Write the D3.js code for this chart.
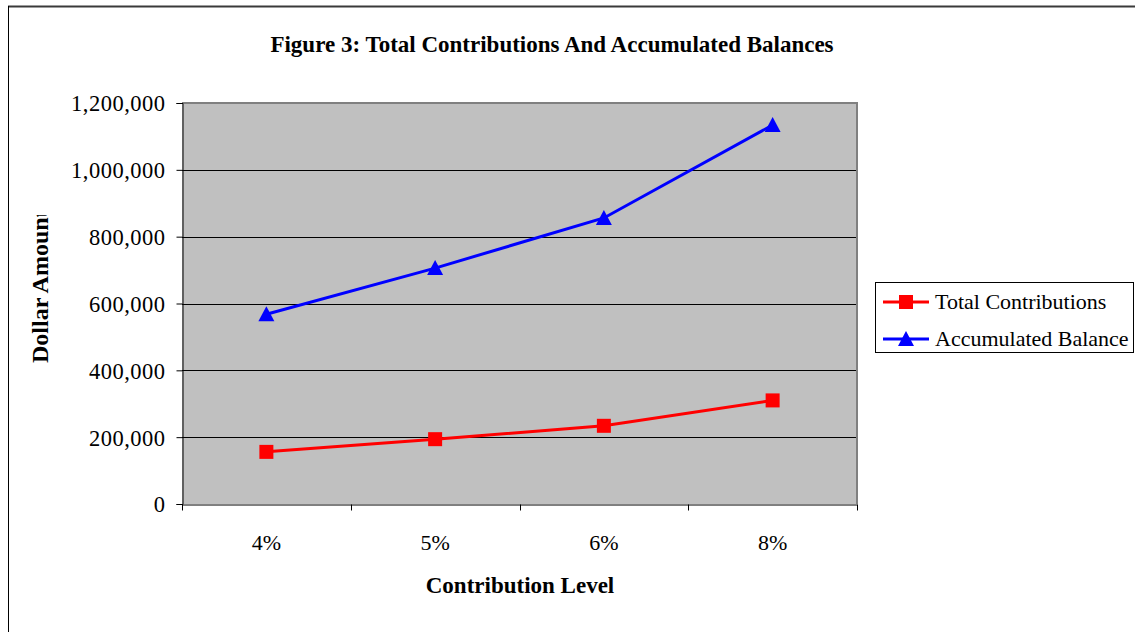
<!DOCTYPE html>
<html>
<head>
<meta charset="utf-8">
<script src="https://cdn.jsdelivr.net/npm/d3@7"></script>
<style>
  html, body { margin: 0; padding: 0; background: #fff; }
  svg { display: block; }
  text { font-family: "Liberation Serif", "Times New Roman", serif; fill: #000; }
</style>
</head>
<body>
<svg id="chart" width="1135" height="632"></svg>
<script>
const categories = ["4%", "5%", "6%", "8%"];
const totalContributions = [156000, 194000, 234000, 310000];
const accumulatedBalance = [568000, 706000, 856000, 1134000];
const yTicks = [0, 200000, 400000, 600000, 800000, 1000000, 1200000];
const seriesNames = ["Total Contributions", "Accumulated Balance"];
const titleText = "Figure 3: Total Contributions And Accumulated Balances";
const xTitle = "Contribution Level";
const yTitle = "Dollar Amount";

const svg = d3.select("#chart");
const plot = { left: 182, right: 857, top: 103, bottom: 504 };

// outer frame
svg.append("line").attr("x1", 8).attr("x2", 1135).attr("y1", 6.5).attr("y2", 6.5)
  .attr("stroke", "#3a3a3a").attr("stroke-width", 2);
svg.append("line").attr("x1", 8.5).attr("x2", 8.5).attr("y1", 6).attr("y2", 632)
  .attr("stroke", "#000").attr("stroke-width", 1);

const x = d3.scaleBand().domain(categories).range([plot.left, plot.right]);
const y = d3.scaleLinear().domain([0, 1200000]).range([plot.bottom, plot.top]);

// plot background
svg.append("rect").attr("x", plot.left).attr("y", plot.top)
  .attr("width", plot.right - plot.left).attr("height", plot.bottom - plot.top)
  .attr("fill", "#c0c0c0");

// gridlines
svg.append("g").selectAll("line").data(yTicks.filter(d => d > 0 && d < 1200000)).join("line")
  .attr("x1", plot.left).attr("x2", plot.right)
  .attr("y1", d => Math.round(y(d)) + 0.5).attr("y2", d => Math.round(y(d)) + 0.5)
  .attr("stroke", "#000").attr("stroke-width", 1);

// plot border top/right
svg.append("path")
  .attr("d", `M${plot.left},${plot.top} H${plot.right} V${plot.bottom}`)
  .attr("fill", "none").attr("stroke", "#808080").attr("stroke-width", 2);

// y axis
const yAxis = d3.axisLeft(y).tickValues(yTicks).tickFormat(d3.format(",")).tickSize(6).tickPadding(11);
const gy = svg.append("g").attr("transform", `translate(${plot.left + 0.5},0)`).call(yAxis);
gy.select(".domain").attr("stroke", "#000");
gy.selectAll(".tick line").attr("stroke", "#000");
gy.selectAll(".tick text").attr("font-size", 22.5).attr("letter-spacing", 0.5)
  .attr("font-family", "Liberation Serif").attr("dy", "0.35em");

// x axis
const xAxis = d3.axisBottom(x).tickSize(0).tickPadding(0);
const gx = svg.append("g").attr("transform", `translate(0,${plot.bottom + 0.5})`).call(xAxis);
gx.select(".domain").attr("stroke", "#000");
gx.selectAll(".tick text").attr("font-size", 22).attr("font-family", "Liberation Serif")
  .attr("y", 45).attr("dy", 0);
// category boundary ticks
const bounds = categories.map(c => x(c)).concat([x(categories[categories.length - 1]) + x.bandwidth()]);
gx.append("g").selectAll("line").data(bounds).join("line")
  .attr("x1", d => Math.round(d) + 0.5).attr("x2", d => Math.round(d) + 0.5)
  .attr("y1", 0).attr("y2", 6).attr("stroke", "#000");

const cx = c => x(c) + x.bandwidth() / 2;

// series
const line = d3.line().x(d => cx(d.c)).y(d => y(d.v));
const redData = categories.map((c, i) => ({ c, v: totalContributions[i] }));
const blueData = categories.map((c, i) => ({ c, v: accumulatedBalance[i] }));

svg.append("path").datum(redData).attr("d", line).attr("fill", "none")
  .attr("stroke", "#ff0000").attr("stroke-width", 3);
svg.append("path").datum(blueData).attr("d", line).attr("fill", "none")
  .attr("stroke", "#0000ff").attr("stroke-width", 3);

const sq = 14;
svg.append("g").selectAll("rect").data(redData).join("rect")
  .attr("x", d => cx(d.c) - sq / 2).attr("y", d => y(d.v) - sq / 2)
  .attr("width", sq).attr("height", sq).attr("fill", "#ff0000");

const tri = (px, py) => `M${px},${py - 8} L${px + 8},${py + 7} L${px - 8},${py + 7} Z`;
svg.append("g").selectAll("path").data(blueData).join("path")
  .attr("d", d => tri(cx(d.c), y(d.v))).attr("fill", "#0000ff");

// title
svg.append("text").attr("x", 552).attr("y", 52).attr("text-anchor", "middle")
  .attr("font-size", 23).attr("font-weight", "bold").text(titleText);

// x title
svg.append("text").attr("x", 520).attr("y", 593).attr("text-anchor", "middle")
  .attr("font-size", 23).attr("font-weight", "bold").text(xTitle);

// y title (clipped like the original)
svg.append("clipPath").attr("id", "yclip").append("rect")
  .attr("x", 0).attr("y", 215).attr("width", 100).attr("height", 300);
svg.append("g").attr("clip-path", "url(#yclip)")
  .append("text").attr("transform", "translate(48,363) rotate(-90)")
  .attr("text-anchor", "start").attr("font-size", 24).attr("font-weight", "bold").text(yTitle);

// legend
const lg = svg.append("g");
lg.append("rect").attr("x", 875.5).attr("y", 282.5).attr("width", 258).attr("height", 70)
  .attr("fill", "#fff").attr("stroke", "#000").attr("stroke-width", 1);
const rows = [
  { name: seriesNames[0], color: "#ff0000", shape: "square", yy: 302 },
  { name: seriesNames[1], color: "#0000ff", shape: "tri", yy: 339 }
];
rows.forEach(r => {
  lg.append("line").attr("x1", 883).attr("x2", 929).attr("y1", r.yy).attr("y2", r.yy)
    .attr("stroke", r.color).attr("stroke-width", 3);
  if (r.shape === "square") {
    lg.append("rect").attr("x", 906 - 7).attr("y", r.yy - 7).attr("width", 14).attr("height", 14).attr("fill", r.color);
  } else {
    lg.append("path").attr("d", tri(906, r.yy)).attr("fill", r.color);
  }
  lg.append("text").attr("x", 935).attr("y", r.yy + 7).attr("font-size", 22).text(r.name);
});
</script>
</body>
</html>
